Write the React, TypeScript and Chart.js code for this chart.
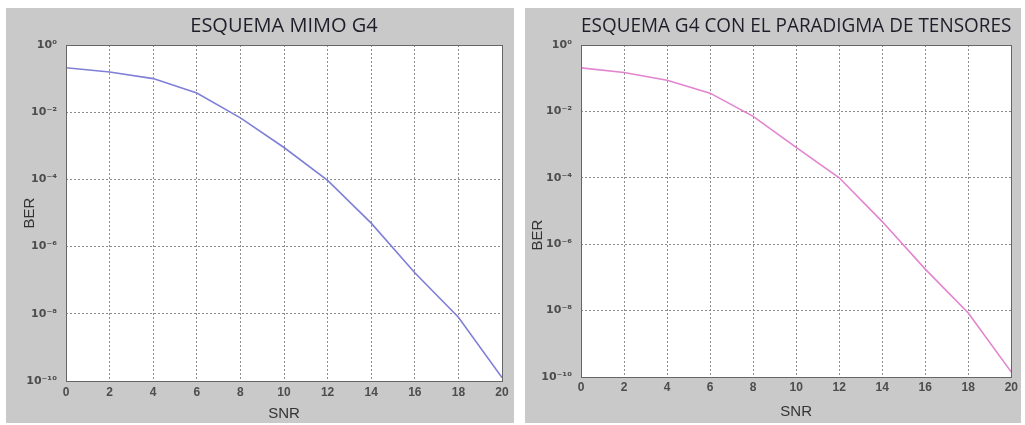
import React, { useEffect, useRef } from 'react';
import { Chart, registerables } from 'chart.js';

Chart.register(...registerables);

// ---- data ----
const snrValues = [0, 2, 4, 6, 8, 10, 12, 14, 16, 18, 20];
const berMimoG4 = [2.1e-1, 1.58e-1, 1.0e-1, 3.7e-2, 6.8e-3, 8.9e-4, 9.3e-5, 5.0e-6, 1.66e-7, 7.9e-9, 1.26e-10];
const berTensores = [2.04e-1, 1.48e-1, 8.7e-2, 3.55e-2, 7.1e-3, 8.3e-4, 1.0e-4, 4.8e-6, 1.78e-7, 8.5e-9, 1.4e-10];
const yTickValues = [1e-10, 1e-8, 1e-6, 1e-4, 1e-2, 1];
const yTickLabels = ['10⁻¹⁰', '10⁻⁸', '10⁻⁶', '10⁻⁴', '10⁻²', '10⁰'];
const xAxisLabel = 'SNR';
const yAxisLabel = 'BER';
const titleLeft = 'ESQUEMA MIMO G4';
const titleRight = 'ESQUEMA G4 CON EL PARADIGMA DE TENSORES';

type PanelCfg = {
  title: string;
  values: number[];
  color: string;
  left: number;
  top: number;
  width: number;
  height: number;
  yAxisWidth: number;
  xAxisHeight: number;
  rightPad: number;
  xTickPad: number;
  xTitlePad: number;
  berX: number;
  berY: number;
};

const areaBgPlugin = {
  id: 'areaBg',
  beforeDraw(chart: any) {
    const { ctx, chartArea } = chart;
    ctx.save();
    ctx.fillStyle = '#ffffff';
    ctx.fillRect(chartArea.left, chartArea.top, chartArea.right - chartArea.left, chartArea.bottom - chartArea.top);
    ctx.restore();
  },
};

const framePlugin = {
  id: 'frame',
  afterDatasetsDraw(chart: any) {
    const { ctx, chartArea } = chart;
    ctx.save();
    ctx.strokeStyle = '#666666';
    ctx.lineWidth = 1;
    ctx.setLineDash([]);
    ctx.strokeRect(
      Math.round(chartArea.left) + 0.5,
      Math.round(chartArea.top) + 0.5,
      Math.round(chartArea.right - chartArea.left),
      Math.round(chartArea.bottom - chartArea.top)
    );
    ctx.restore();
  },
};

const berLabelPlugin = {
  id: 'berLabel',
  afterDraw(chart: any, _args: any, opts: any) {
    const { ctx } = chart;
    ctx.save();
    ctx.translate(opts.x, opts.y);
    ctx.rotate(-Math.PI / 2);
    ctx.font = '15px "Liberation Sans", Arial, sans-serif';
    ctx.fillStyle = '#333333';
    ctx.textAlign = 'center';
    ctx.textBaseline = 'middle';
    ctx.fillText(opts.text, 0, 0);
    ctx.restore();
  },
};

function Panel({ cfg }: { cfg: PanelCfg }) {
  const ref = useRef<HTMLCanvasElement | null>(null);
  useEffect(() => {
    if (!ref.current) return;
    const chart = new Chart(ref.current, {
      type: 'scatter',
      data: {
        datasets: [
          {
            data: snrValues.map((x, i) => ({ x, y: cfg.values[i] })),
            showLine: true,
            borderColor: cfg.color,
            backgroundColor: cfg.color,
            borderWidth: 1.6,
            pointRadius: 0,
            tension: 0,
          },
        ],
      },
      options: {
        animation: false,
        responsive: false,
        layout: { padding: { left: 0, right: cfg.rightPad, top: 0, bottom: 0 } },
        plugins: {
          legend: { display: false },
          tooltip: { enabled: false },
          title: {
            display: true,
            text: cfg.title,
            fullSize: false,
            color: '#1e1e2a',
            font: { family: '"Open Sans", sans-serif', size: 20, weight: 'normal', lineHeight: 1.2 },
            padding: { top: 6, bottom: 7 },
          },
          berLabel: { x: cfg.berX, y: cfg.berY, text: yAxisLabel },
        } as any,
        scales: {
          x: {
            type: 'linear',
            min: 0,
            max: 20,
            afterFit: (s: any) => {
              s.height = cfg.xAxisHeight;
            },
            ticks: {
              stepSize: 2,
              padding: cfg.xTickPad,
              color: '#4d4d4d',
              font: { family: '"Liberation Sans", Arial, sans-serif', size: 12, weight: 'bold' },
            },
            grid: {
              color: '#8c8c8c',
              lineWidth: 1,
              drawTicks: false,
            },
            border: { display: false, dash: [2, 2] },
            title: {
              display: true,
              text: xAxisLabel,
              color: '#333333',
              font: { family: '"Liberation Sans", Arial, sans-serif', size: 15, lineHeight: 1.2 },
              padding: { top: 0, bottom: cfg.xTitlePad },
            },
          },
          y: {
            type: 'logarithmic',
            min: 1e-10,
            max: 1,
            afterFit: (s: any) => {
              s.width = cfg.yAxisWidth;
            },
            afterBuildTicks: (s: any) => {
              s.ticks = yTickValues.map((v) => ({ value: v }));
            },
            ticks: {
              padding: 9,
              color: '#4d4d4d',
              font: { family: '"DejaVu Sans", sans-serif', size: 11, weight: 'bold' },
              callback: (_v: any, i: number) => yTickLabels[i],
            },
            grid: {
              color: '#8c8c8c',
              lineWidth: 1,
              drawTicks: false,
            },
            border: { display: false, dash: [2, 2] },
          },
        },
      } as any,
      plugins: [areaBgPlugin, framePlugin, berLabelPlugin],
    });
    return () => chart.destroy();
  }, [cfg]);

  return (
    <div
      style={{
        position: 'absolute',
        left: cfg.left,
        top: cfg.top,
        width: cfg.width,
        height: cfg.height,
        background: '#c9c9c9',
      }}
    >
      <canvas ref={ref} width={cfg.width} height={cfg.height} style={{ display: 'block' }} />
    </div>
  );
}

const leftCfg: PanelCfg = {
  title: titleLeft,
  values: berMimoG4,
  color: '#7f7fd8',
  left: 6,
  top: 8,
  width: 508,
  height: 415,
  yAxisWidth: 60,
  xAxisHeight: 42,
  rightPad: 12,
  xTickPad: 4,
  xTitlePad: 0,
  berX: 24,
  berY: 205,
};

const rightCfg: PanelCfg = {
  title: titleRight,
  values: berTensores,
  color: '#e384cf',
  left: 525,
  top: 8,
  width: 496,
  height: 415,
  yAxisWidth: 56,
  xAxisHeight: 46,
  rightPad: 5,
  xTickPad: 3,
  xTitlePad: 2,
  berX: 13,
  berY: 227,
};

export default function App() {
  return (
    <div
      style={{
        position: 'fixed',
        left: 0,
        top: 0,
        width: 1025,
        height: 425,
        background: '#ffffff',
        overflow: 'hidden',
      }}
    >
      <Panel cfg={leftCfg} />
      <Panel cfg={rightCfg} />
    </div>
  );
}
